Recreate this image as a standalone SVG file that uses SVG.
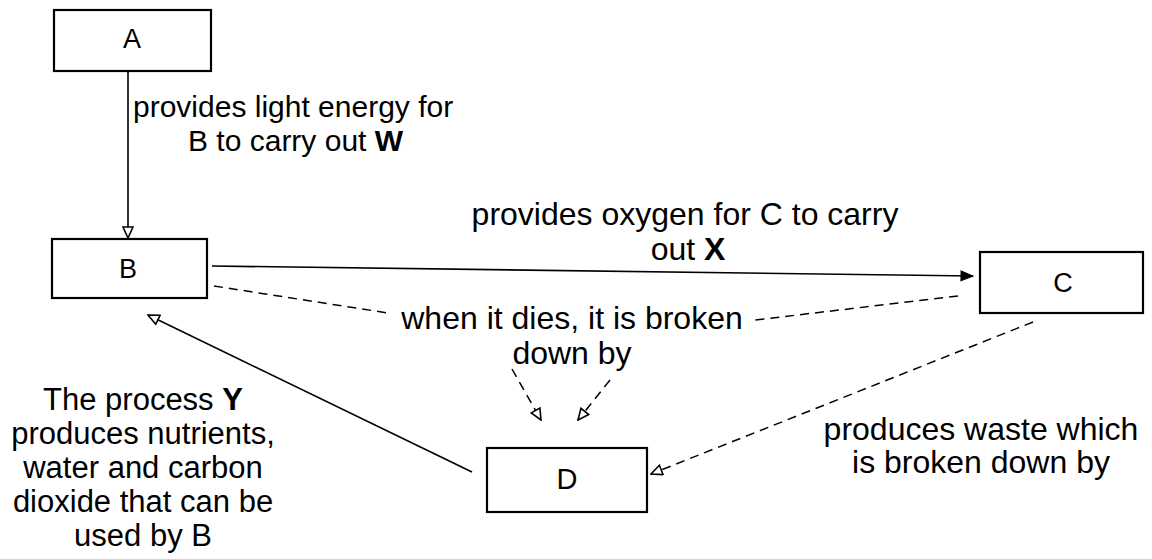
<svg xmlns="http://www.w3.org/2000/svg" width="1152" height="559" viewBox="0 0 1152 559">
<style>
.box{fill:#fff;stroke:#000;stroke-width:2.2}
.lbl{font-family:"Liberation Sans",Arial,sans-serif;font-size:27px;fill:#000;text-anchor:middle}
.txt{font-family:"Liberation Sans",Arial,sans-serif;font-size:32px;fill:#000}
.t30{font-size:30px}
.t31{font-size:31px}
.mid{text-anchor:middle}
.b{font-weight:bold}
.solid{fill:none;stroke:#000;stroke-width:1.6}
.dash{fill:none;stroke:#000;stroke-width:1.5;stroke-dasharray:9 6}
</style>
<defs>
<marker id="ah" viewBox="0 0 13 12" refX="12" refY="6" markerWidth="13" markerHeight="12" markerUnits="userSpaceOnUse" orient="auto">
<path d="M1,1 L12,6 L1,11 Z" fill="#fff" stroke="#000" stroke-width="1.6"/>
</marker>
<marker id="ahf" viewBox="0 0 14 12" refX="13" refY="6" markerWidth="14" markerHeight="12" markerUnits="userSpaceOnUse" orient="auto">
<path d="M1,1 L13,6 L1,11 Z" fill="#000" stroke="#000" stroke-width="1"/>
</marker>
</defs>
<rect width="1152" height="559" fill="#fff"/>
<g id="connectors">
<line class="solid" x1="128" y1="71" x2="128" y2="238" marker-end="url(#ah)"/>
<line class="solid" x1="212" y1="266" x2="973" y2="276" marker-end="url(#ahf)"/>
<line class="dash" x1="214" y1="286" x2="388" y2="313"/>
<line class="dash" x1="958" y1="296" x2="755" y2="320"/>
<line class="dash" x1="512" y1="369" x2="541" y2="420" marker-end="url(#ah)"/>
<line class="dash" x1="610" y1="380" x2="578" y2="420" marker-end="url(#ah)"/>
<line class="dash" x1="1033" y1="322" x2="651" y2="474" marker-end="url(#ah)"/>
<line class="solid" x1="472" y1="472" x2="148" y2="315" marker-end="url(#ah)"/>
</g>
<g id="A"><rect class="box" x="54" y="10" width="157" height="61"/><text class="lbl" x="132" y="48">A</text></g>
<g id="B"><rect class="box" x="52" y="239" width="155" height="59"/><text class="lbl" x="128" y="278">B</text></g>
<g id="C"><rect class="box" x="980" y="252" width="163" height="61"/><text class="lbl" x="1063" y="292">C</text></g>
<g id="D"><rect class="box" x="487" y="448" width="160" height="64"/><text class="lbl" x="567" y="489" style="font-size:29px">D</text></g>
<g id="labels">
<text class="txt t30" x="133" y="117">provides light energy for</text>
<text class="txt t30" x="188" y="151">B to carry out <tspan class="b">W</tspan></text>
<text class="txt mid" x="685" y="225">provides oxygen for C to carry</text>
<text class="txt mid" x="688" y="260">out <tspan class="b">X</tspan></text>
<text class="txt mid" x="572" y="329">when it dies, it is broken</text>
<text class="txt mid" x="572" y="364">down by</text>
<text class="txt mid" x="981" y="440">produces waste which</text>
<text class="txt mid" x="981" y="473">is broken down by</text>
<text class="txt t31 mid" x="143" y="410">The process <tspan class="b">Y</tspan></text>
<text class="txt t31 mid" x="143" y="444">produces nutrients,</text>
<text class="txt t31 mid" x="143" y="478">water and carbon</text>
<text class="txt t31 mid" x="143" y="512">dioxide that can be</text>
<text class="txt t31 mid" x="143" y="546">used by B</text>
</g>
</svg>
